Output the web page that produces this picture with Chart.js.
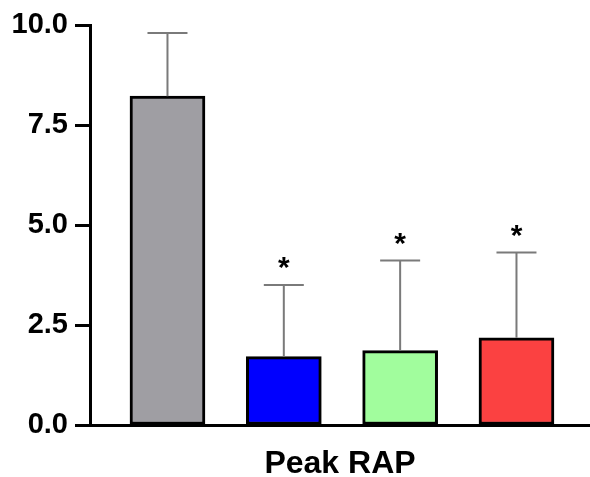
<!DOCTYPE html>
<html>
<head>
<meta charset="utf-8">
<script src="https://cdn.jsdelivr.net/npm/chart.js@4.4.1/dist/chart.umd.min.js"></script>
<style>
  html, body { margin: 0; padding: 0; background: #ffffff; }
  #wrap { width: 590px; height: 477px; position: relative; }
</style>
</head>
<body>
<div id="wrap"><canvas id="c"></canvas></div>
<script>
// ---- data ----
const groups = ['Group 1', 'Group 2', 'Group 3', 'Group 4'];
const means = [8.22, 1.71, 1.86, 2.18];
const errorTops = [9.8, 3.5, 4.11, 4.31];
const significant = [false, true, true, true];
const barColors = ['#9f9ea3', '#0000ff', '#a1fd9d', '#fb4141'];
const yTicks = [0, 2.5, 5, 7.5, 10];
const axisTitle = 'Peak RAP';

const FONT = "'Liberation Sans', Arial, Helvetica, sans-serif";

const errorBarPlugin = {
  id: 'errorBars',
  afterDatasetsDraw(chart) {
    const ctx = chart.ctx;
    const meta = chart.getDatasetMeta(0);
    const y = chart.scales.y;
    ctx.save();
    meta.data.forEach((bar, i) => {
      const x = bar.x;
      const yTop = y.getPixelForValue(errorTops[i]);
      const yMean = y.getPixelForValue(means[i]);
      ctx.strokeStyle = '#7a7a7a';
      ctx.lineWidth = 2;
      ctx.beginPath();
      ctx.moveTo(x, yMean);
      ctx.lineTo(x, yTop);
      ctx.moveTo(x - 20, yTop);
      ctx.lineTo(x + 20, yTop);
      ctx.stroke();
      if (significant[i]) {
        ctx.fillStyle = '#000000';
        ctx.font = 'bold 30px ' + FONT;
        ctx.textAlign = 'center';
        ctx.textBaseline = 'alphabetic';
        ctx.fillText('*', x, yTop - 8);
      }
    });
    ctx.restore();
  }
};

new Chart(document.getElementById('c'), {
  type: 'bar',
  data: {
    datasets: [{
      data: groups.map((g, i) => ({ x: i, y: means[i] })),
      backgroundColor: barColors,
      borderColor: '#000000',
      borderWidth: 3,
      borderSkipped: false,
      barThickness: 75
    }]
  },
  options: {
    responsive: true,
    maintainAspectRatio: false,
    animation: false,
    devicePixelRatio: 1,
    layout: { padding: { top: 25, right: 0, left: 0, bottom: 0 } },
    plugins: { legend: { display: false }, tooltip: { enabled: false } },
    scales: {
      x: {
        type: 'linear',
        offset: false,
        min: -0.666,
        max: 3.632,
        afterFit(scale) { scale.height = 52; },
        grid: { display: true, drawOnChartArea: false, drawTicks: false },
        border: { display: true, width: 3, color: '#000000' },
        ticks: { display: false },
        title: {
          display: true,
          text: axisTitle,
          color: '#000000',
          font: { family: FONT, size: 32, weight: 'bold', lineHeight: 0.8 },
          padding: { top: 0, bottom: 0 }
        }
      },
      y: {
        min: 0,
        max: 10,
        afterFit(scale) { scale.width = 90; },
        afterBuildTicks(scale) { scale.ticks = yTicks.map(v => ({ value: v })); },
        grid: { drawOnChartArea: false, drawTicks: true, tickLength: 15, tickWidth: 3, tickColor: '#000000' },
        border: { display: true, width: 3, color: '#000000' },
        ticks: {
          color: '#000000',
          padding: 7,
          font: { family: FONT, size: 29, weight: 'bold' },
          callback: v => Number(v).toFixed(1)
        }
      }
    }
  },
  plugins: [errorBarPlugin]
});
</script>
</body>
</html>
